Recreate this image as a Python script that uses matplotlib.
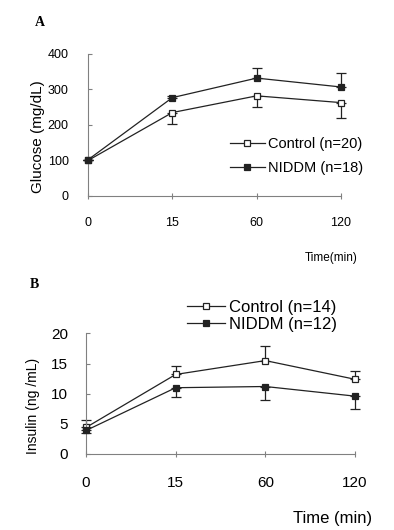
import matplotlib
matplotlib.use("Agg")
import matplotlib.pyplot as plt
from matplotlib.lines import Line2D

plt.rcParams['font.family'] = ['Liberation Sans', 'DejaVu Sans']

time_labels = ['0', '15', '60', '120']

# panel A: glucose (mg/dL)
glucose_control = [100, 235, 282, 263]
glucose_control_err = [0, 31, 32, 43]      # drawn downward
glucose_niddm = [102, 277, 332, 307]
glucose_niddm_err = [0, 6, 28, 39]         # drawn upward

# panel B: insulin (ng/mL)
insulin_control = [4.4, 13.2, 15.5, 12.4]
insulin_control_err = [1.2, 1.4, 2.4, 1.4]  # upward
insulin_niddm = [3.9, 11.0, 11.2, 9.6]
insulin_niddm_err = [0.4, 1.6, 2.2, 2.2]    # downward

LINE = '#222222'
SPINE = '#808080'

fig = plt.figure(figsize=(3.94, 5.30), dpi=100)
axA = fig.add_axes([0.2234, 0.6302, 0.642, 0.268])
axB = fig.add_axes([0.2183, 0.1434, 0.6827, 0.2274])

x = list(range(len(time_labels)))
zeros = [0] * len(x)


def draw(ax, y, lo, hi, filled):
    c = ax.errorbar(x, y, yerr=[lo, hi], color=LINE, lw=0.9, elinewidth=0.9,
                    capsize=3.5, capthick=0.9, marker='s', markersize=5,
                    markerfacecolor=LINE if filled else 'white',
                    markeredgecolor=LINE, markeredgewidth=0.9,
                    zorder=3 if filled else 2)
    c.lines[0].set_clip_on(False)
    for art in tuple(c.lines[1]) + tuple(c.lines[2]):
        art.set_clip_on(False)


def handle(filled):
    return Line2D([], [], color=LINE, lw=0.9, marker='s', markersize=5,
                  markerfacecolor=LINE if filled else 'white',
                  markeredgecolor=LINE, markeredgewidth=0.9)


def style(ax, ymax, ystep, fs, xpad, ypad):
    for s in ('top', 'right'):
        ax.spines[s].set_visible(False)
    for s in ('left', 'bottom'):
        ax.spines[s].set_color(SPINE)
        ax.spines[s].set_linewidth(0.8)
    ax.set_xlim(0, 3)
    ax.set_ylim(0, ymax)
    ax.set_xticks(x)
    ax.set_xticklabels(time_labels)
    ax.set_yticks(range(0, ymax + 1, ystep))
    ax.tick_params(axis='x', direction='inout', length=4, width=0.8,
                   color=SPINE, pad=xpad, labelsize=fs)
    ax.tick_params(axis='y', direction='in', length=3, width=0.8,
                   color=SPINE, pad=ypad, labelsize=fs)


# ---- A
draw(axA, glucose_control, glucose_control_err, zeros, False)
draw(axA, glucose_niddm, zeros, glucose_niddm_err, True)
style(axA, 400, 100, 9, 13, 14)
axA.set_ylabel('Glucose (mg/dL)', fontsize=11)
axA.yaxis.set_label_coords(-0.17, 0.42)
axA.legend([handle(False), handle(True)], ['Control (n=20)', 'NIDDM (n=18)'],
           loc='center left', bbox_to_anchor=(0.56, 0.28), frameon=False,
           borderpad=0, borderaxespad=0, handlelength=2.4, handletextpad=0.2,
           labelspacing=0.7, fontsize=10.5)
fig.text(358 / 394, 1 - 258 / 530, 'Time(min)', ha='right', va='center',
         fontsize=8.5)
fig.text(35 / 394, 1 - 22 / 530, 'A', ha='left', va='center', fontsize=10,
         fontweight='bold', family='Liberation Serif')

# ---- B
draw(axB, insulin_control, zeros, insulin_control_err, False)
draw(axB, insulin_niddm, insulin_niddm_err, zeros, True)
style(axB, 20, 5, 11, 14, 13)
axB.set_ylabel('Insulin (ng /mL)', fontsize=10)
axB.yaxis.set_label_coords(-0.171, 0.40)
fig.legend([handle(False), handle(True)], ['Control (n=14)', 'NIDDM (n=12)'],
           loc='center left', bbox_to_anchor=(187 / 394, 1 - 316 / 530),
           frameon=False, borderpad=0, borderaxespad=0, handlelength=2.3,
           handletextpad=0.2, labelspacing=0.15, fontsize=12)
fig.text(372 / 394, 1 - 518 / 530, 'Time (min)', ha='right', va='center',
         fontsize=12)
fig.text(30 / 394, 1 - 284 / 530, 'B', ha='left', va='center', fontsize=10,
         fontweight='bold', family='Liberation Serif')

fig.savefig('out.png', dpi=100)
